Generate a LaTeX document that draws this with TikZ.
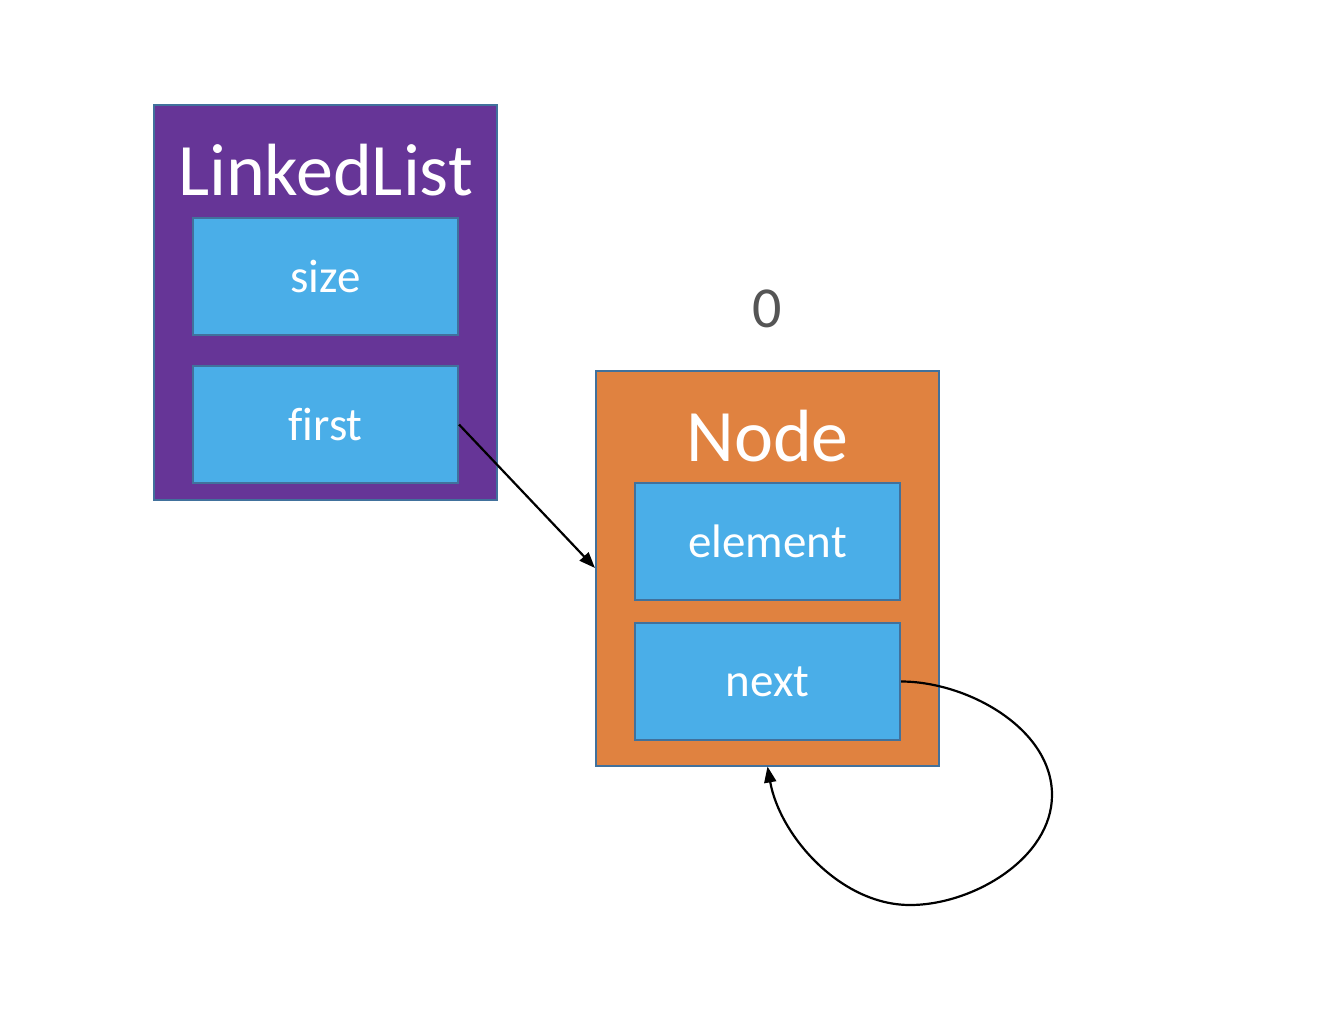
\documentclass[tikz,border=0pt]{standalone}
\usepackage{fontspec}
\setmainfont[Ligatures=NoCommon]{Carlito}
\usetikzlibrary{arrows.meta}
\definecolor{purp}{RGB}{102,53,151}
\definecolor{orng}{RGB}{224,130,64}
\definecolor{sky}{RGB}{74,174,232}
\definecolor{edge}{RGB}{65,113,156}
\definecolor{zero}{RGB}{85,85,85}
\tikzset{
  outerbox/.style={draw=edge, line width=2pt, minimum width=343pt, minimum height=395pt, inner sep=0pt},
  fieldbox/.style={draw=edge, line width=2pt, fill=sky, minimum width=265pt, minimum height=117pt, inner sep=0pt, text=white, font=\fontsize{47}{56}\selectfont},
  titletext/.style={text=white, font=\fontsize{74}{88}\selectfont, inner sep=0pt},
  link/.style={line width=2.2pt, -{Triangle[length=16pt,width=12pt]}}
}
\begin{document}
\begin{tikzpicture}[x=1pt,y=-1pt]
\useasboundingbox[fill=white] (0,0) rectangle (1322,1010);
% LinkedList
\node[outerbox, fill=purp] (ll) at (325.5,302.5) {};
\node[titletext] (lltitle) at (325.5,170) {LinkedList};
\node[fieldbox] (size) at (325.5,276.5) {\raisebox{-2pt}{size}};
\node[fieldbox] (first) at (325.5,424.5) {\raisebox{-2pt}{first}};
% Node
\node[outerbox, fill=orng] (nd) at (767.5,568) {};
\node[titletext] (ndtitle) at (767.5,436) {Node};
\node[fieldbox] (element) at (767.5,541.5) {\raisebox{-2pt}{element}};
\node[fieldbox] (next) at (767.5,681.5) {\raisebox{-2pt}{next}};
\node[text=zero, font=\fontsize{58}{68}\selectfont, inner sep=0pt] (zero) at (767,309) {0};
% connectors
\draw[link] (first.east) -- (nd.west);
\coordinate (c1) at (1052,795);
\coordinate (c2) at (910,905);
\draw[link] (next.east) to[out=0,in=90,looseness=0.9] (c1) to[out=-90,in=0,looseness=0.9] (c2) to[out=180,in=-80,looseness=0.9] (nd.south);
\end{tikzpicture}
\end{document}
